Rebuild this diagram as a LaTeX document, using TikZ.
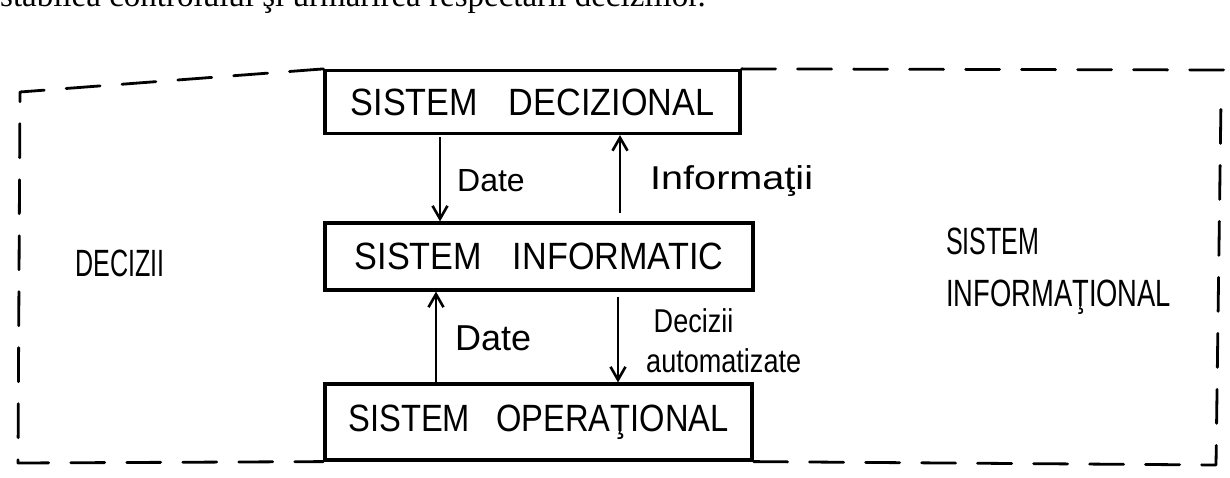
\documentclass[tikz,border=0pt]{standalone}
\usepackage{graphicx}
\usepackage{fontspec}
\setmainfont{Liberation Sans}
\newfontfamily\printfont{Liberation Serif}
\usetikzlibrary{arrows.meta}
\newcommand\hxs[2]{\scalebox{#1}[1]{#2}}
\begin{document}
\begin{tikzpicture}[x=1pt,y=-1pt,
  sysbox/.style={draw=black, line width=3.2pt, rectangle, inner sep=0pt,
    font=\fontsize{38}{44}\selectfont},
  frameline/.style={line width=2.8pt, dash pattern=on 34pt off 22pt, line cap=round, line join=round},
  flow/.style={line width=2.6pt, -{Straight Barb[length=13pt,width=15pt,line width=2.6pt]}},
  lbl/.style={anchor=west, inner sep=0pt, font=\fontsize{32}{36}\selectfont},
  hand/.style={anchor=west, inner sep=0pt, font=\fontsize{38}{42}\selectfont}]
\useasboundingbox (0,0) rectangle (1230,478);
\fill[white] (0,0) rectangle (1230,478);

% cut-off printed line at the top
\begin{scope}
\clip (0,0) rectangle (1230,478);
\node[anchor=base west, inner sep=0pt, font=\printfont\fontsize{33}{36}\selectfont] (toptext) at (0,7)
  {stabilea controlului şi urmărirea respectării deciziilor.};
\end{scope}

% the three systems
\node[sysbox, minimum width=415pt, minimum height=63pt] (dec) at (532.5,102) {\hxs{0.9}{SISTEM\hspace{0.9em}DECIZIONAL}};
\node[sysbox, minimum width=428pt, minimum height=67pt] (inf) at (539,256.5) {\hxs{0.9}{SISTEM\hspace{0.9em}INFORMATIC}};
\node[sysbox, minimum width=427pt, minimum height=76pt] (op) at (538.5,422) {\hxs{0.86}{SISTEM\hspace{0.8em}OPERAŢIONAL}};

% x positions of the flows
\coordinate (xa) at (440,0);
\coordinate (xd) at (436,0);
\coordinate (xb) at (620,0);
\coordinate (xc) at (618,0);

\draw[flow, shorten <=2pt] (dec.south -| xa) -- (inf.north -| xa);
\draw[flow, shorten <=8pt] (inf.north -| xb) -- (dec.south -| xb);
\draw[flow] (op.north -| xd) -- (inf.south -| xd);
\draw[flow, shorten <=5pt] (inf.south -| xc) -- (op.north -| xc);

% labels of the flows
\node[lbl, anchor=base west] (l1) at (457,192) {Date};
\node[lbl, anchor=base west, font=\fontsize{33}{36}\selectfont] (l2) at (650,190) {\hxs{1.2}{Informaţii}};
\node[lbl, anchor=base west, font=\fontsize{36}{40}\selectfont] (l3) at (455,350) {Date};
\node[lbl, align=left, font=\fontsize{33}{40}\selectfont] (l4) at (646,341) {\hxs{0.82}{\ Decizii}\\\hxs{0.82}{automatizate}};

% side texts
\node[hand] (dz) at (75,263) {\hxs{0.66}{DECIZII}};
\node[hand] (s1) at (946,241) {\hxs{0.66}{SISTEM}};
\node[hand] (s2) at (946,297) {\hxs{0.72}{INFORMAŢIONAL}};

% dashed frame of the information system
\coordinate (tl) at (20,92);
\coordinate (bl) at (18,463);
\coordinate (tr) at (1232,70);
\coordinate (br) at (1216,465);
\coordinate (rt) at (1221,100);
\draw[frameline] (dec.north west) -- (tl) -- (bl) -- (op.south west);
\draw[frameline] (dec.north east) -- (tr);
\draw[frameline] (op.south east) -- (br) -- (rt);
\end{tikzpicture}
\end{document}
